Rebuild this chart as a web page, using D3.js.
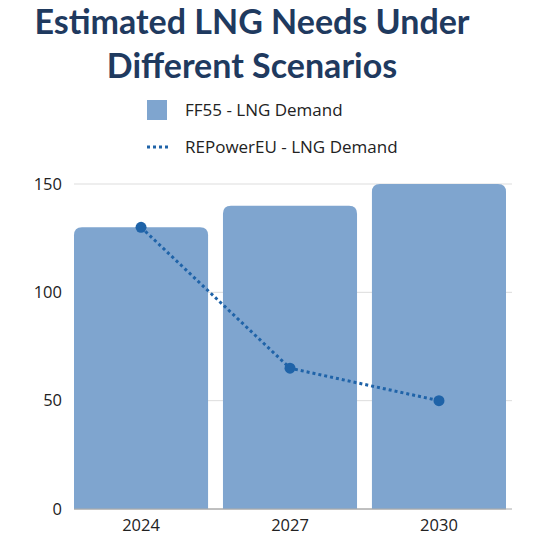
<!DOCTYPE html>
<html>
<head>
<meta charset="utf-8">
<script src="https://cdn.jsdelivr.net/npm/d3@7"></script>
<style>
  body { margin: 0; background: #fff; }
  svg { display: block; }
</style>
</head>
<body>
<div id="chart"></div>
<script>
const years = ['2024', '2027', '2030'];
const ff55Demand = [130, 140, 150];
const repowerDemand = [130, 65, 50];
const yTicks = [0, 50, 100, 150];
const seriesNames = ['FF55 - LNG Demand', 'REPowerEU - LNG Demand'];

const width = 555, height = 546;
const barColor = '#7fa5cf';
const lineColor = '#1f63a8';
const textColor = '#222';

const svg = d3.select('#chart').append('svg')
    .attr('width', width)
    .attr('height', height);

// title
const title = svg.append('text')
    .attr('text-anchor', 'middle')
    .attr('font-family', 'Lato, "Open Sans", sans-serif')
    .attr('font-weight', 'bold')
    .attr('font-size', 34)
    .attr('fill', '#1f3a5f');
title.append('tspan').attr('x', 252).attr('y', 34).text('Estimated LNG Needs Under');
title.append('tspan').attr('x', 252).attr('y', 78).text('Different Scenarios');

// legend
const legend = svg.append('g')
    .attr('font-family', '"Open Sans", sans-serif')
    .attr('font-size', 17)
    .attr('fill', textColor);
legend.append('rect')
    .attr('x', 147).attr('y', 100).attr('width', 20).attr('height', 20)
    .attr('fill', barColor);
legend.append('text').attr('x', 185).attr('y', 116).text(seriesNames[0]);
legend.append('line')
    .attr('x1', 147).attr('x2', 168).attr('y1', 147).attr('y2', 147)
    .attr('stroke', lineColor).attr('stroke-width', 3)
    .attr('stroke-dasharray', '3,3');
legend.append('text').attr('x', 185).attr('y', 153).text(seriesNames[1]);

// scales
const x = d3.scaleBand()
    .domain(years)
    .range([74, 506])
    .paddingInner(0.1)
    .paddingOuter(0);

const y = d3.scaleLinear()
    .domain([0, 150])
    .range([509, 184]);

// gridlines
svg.append('g')
    .selectAll('line')
    .data(yTicks)
    .join('line')
    .attr('x1', 74).attr('x2', 512)
    .attr('y1', d => y(d)).attr('y2', d => y(d))
    .attr('stroke', d => d === 0 ? '#aaa' : '#ddd')
    .attr('stroke-width', 1);

// y axis labels
const yAxis = svg.append('g')
    .attr('transform', 'translate(74,0)')
    .call(d3.axisLeft(y).tickValues(yTicks).tickSize(0).tickPadding(12));
yAxis.select('.domain').remove();
yAxis.selectAll('text')
    .attr('font-family', '"Open Sans", sans-serif')
    .attr('font-size', 16.5)
    .attr('fill', textColor);

// bars with rounded tops
const r = 8;
svg.append('g')
    .selectAll('path')
    .data(ff55Demand)
    .join('path')
    .attr('fill', barColor)
    .attr('d', (d, i) => {
        const x0 = x(years[i]), x1 = x0 + x.bandwidth();
        const y0 = y(0), y1 = y(d);
        return `M${x0},${y0}V${y1 + r}Q${x0},${y1} ${x0 + r},${y1}H${x1 - r}Q${x1},${y1} ${x1},${y1 + r}V${y0}Z`;
    });

// baseline on top of bars
svg.append('line')
    .attr('x1', 74).attr('x2', 506)
    .attr('y1', y(0)).attr('y2', y(0))
    .attr('stroke', '#aaa');

// x axis labels
const xAxis = svg.append('g')
    .attr('transform', `translate(0,${y(0)})`)
    .call(d3.axisBottom(x).tickSize(0).tickPadding(10));
xAxis.select('.domain').remove();
xAxis.selectAll('text')
    .attr('font-family', '"Open Sans", sans-serif')
    .attr('font-size', 16.5)
    .attr('fill', textColor);

// dotted line
const line = d3.line()
    .x((d, i) => x(years[i]) + x.bandwidth() / 2)
    .y(d => y(d));

svg.append('path')
    .datum(repowerDemand)
    .attr('d', line)
    .attr('fill', 'none')
    .attr('stroke', lineColor)
    .attr('stroke-width', 3)
    .attr('stroke-dasharray', '3,3');

svg.append('g')
    .selectAll('circle')
    .data(repowerDemand)
    .join('circle')
    .attr('cx', (d, i) => x(years[i]) + x.bandwidth() / 2)
    .attr('cy', d => y(d))
    .attr('r', 5.5)
    .attr('fill', lineColor);
</script>
</body>
</html>
